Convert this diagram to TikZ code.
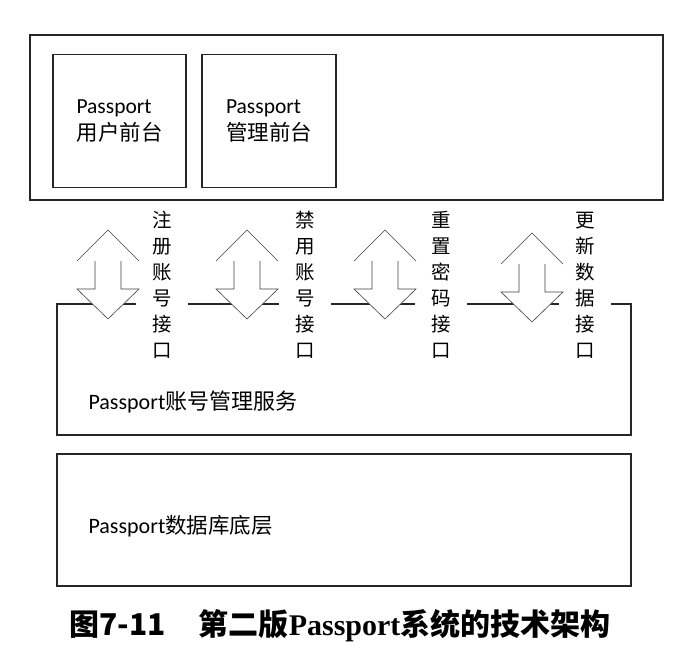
\documentclass[tikz,border=0pt]{standalone}
\usepackage{fontspec}
\setmainfont{Carlito}
\newfontfamily\cjk{Noto Sans CJK SC}
\newfontfamily\capserif{Liberation Serif}
\usetikzlibrary{positioning}

\begin{document}
\begin{tikzpicture}[x=1pt, y=-1pt,
    box/.style={draw=black!85, line width=1.1pt, inner sep=0pt},
    frontbox/.style={box, minimum width=133pt, minimum height=133pt, align=left, font=\fontsize{21.5}{27}\selectfont},
    iface/.style={fill=white, align=center, inner xsep=16pt, inner ysep=0pt, font=\cjk\fontsize{19.5}{26}\selectfont},
    arrowline/.style={draw=black!75, line width=0.6pt},
    layertext/.style={anchor=west, font=\fontsize{22}{24}\selectfont}]

    \useasboundingbox (0,0) rectangle (682,660);

    % front layer
    \node[box, line width=1.6pt, minimum width=633pt, minimum height=165pt] (front) at (346.5,117.5) {};
    \node[frontbox] (userfront) at (119.5,121) {Passport\\{\cjk\fontsize{21.5}{27}\selectfont 用户前台}};
    \node[frontbox, minimum width=134pt] (adminfront) at (269,121) {Passport\\{\cjk\fontsize{21.5}{27}\selectfont 管理前台}};

    % service layer
    \node[box, minimum width=574pt, minimum height=131pt] (service) at (344,369.5) {};
    \node[layertext] (servicetext) at (85,402) {Passport{\cjk\fontsize{22}{24}\selectfont 账号管理服务}};

    % interfaces
    \node[iface] (regif) at (162,285) {注\\册\\账\\号\\接\\口};
    \node[iface] (banif) at (305,285) {禁\\用\\账\\号\\接\\口};
    \node[iface] (resetif) at (441,285) {重\\置\\密\\码\\接\\口};
    \node[iface] (updateif) at (585,285) {更\\新\\数\\据\\接\\口};

    \foreach \cx/\dy in {108/0, 247/0, 385/0, 532/3} {
        \fill[white] (\cx,230+\dy) -- (\cx+31,261+\dy) -- (\cx+13,261+\dy) -- (\cx+13,289+\dy)
            -- (\cx+31,289+\dy) -- (\cx,319+\dy) -- (\cx-31,289+\dy) -- (\cx-13,289+\dy)
            -- (\cx-13,261+\dy) -- (\cx-31,261+\dy) -- cycle;
        \draw[arrowline] (\cx-31,261+\dy) -- (\cx,230+\dy) -- (\cx+31,261+\dy);
        \draw[arrowline] (\cx-13,261+\dy) -- (\cx-13,289+\dy) -- (\cx-31,289+\dy) -- (\cx,319+\dy)
            -- (\cx+31,289+\dy) -- (\cx+13,289+\dy) -- (\cx+13,261+\dy);
    }

    % data layer
    \node[box, minimum width=574pt, minimum height=132pt] (data) at (344,520) {};
    \node[layertext] (datatext) at (85,526) {Passport{\cjk\fontsize{21.5}{24}\selectfont 数据库底层}};

    % caption
    \node (caption) at (340,626) {{\cjk\bfseries\fontsize{30}{34}\selectfont 图7-11\hspace{1.1em}第二版}{\capserif\bfseries\fontsize{30}{34}\selectfont Passport}{\cjk\bfseries\fontsize{30}{34}\selectfont 系统的技术架构}};
\end{tikzpicture}
\end{document}
